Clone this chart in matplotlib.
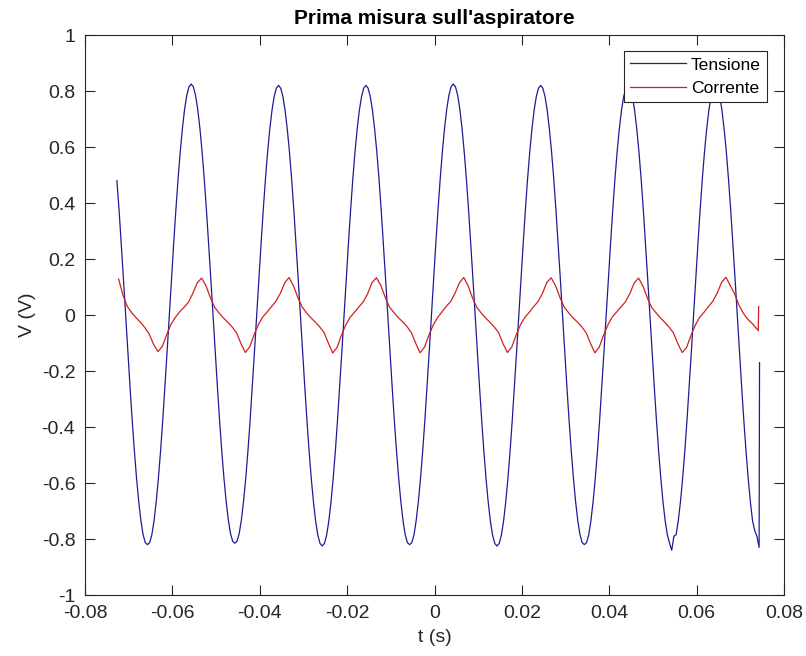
import numpy as np
import matplotlib
matplotlib.use("Agg")
import matplotlib.pyplot as plt

plt.rcParams['font.family'] = ['Liberation Sans', 'DejaVu Sans']
plt.rcParams['axes.unicode_minus'] = False

# ---------------- data ----------------
# Tensione: sampled every 0.5 ms starting at t = -0.0727 s
t_tens_start = -0.0727
t_tens_step = 0.0005
tensione = [
    0.48, 0.375, 0.255, 0.129, 0.0, -0.129, -0.255, -0.375, -0.485, -0.583,
    -0.667, -0.735, -0.785, -0.813, -0.82, -0.813, -0.785, -0.735, -0.667, -0.583,
    -0.485, -0.375, -0.255, -0.129, 0.0, 0.129, 0.255, 0.375, 0.485, 0.583,
    0.667, 0.735, 0.785, 0.815, 0.825, 0.815, 0.785, 0.735, 0.667, 0.583,

    0.485, 0.375, 0.255, 0.129, 0.0, -0.129, -0.255, -0.375, -0.485, -0.582,
    -0.664, -0.731, -0.78, -0.808, -0.815, -0.808, -0.78, -0.731, -0.664, -0.582,
    -0.485, -0.375, -0.255, -0.129, 0.0, 0.129, 0.255, 0.375, 0.485, 0.582,
    0.664, 0.731, 0.78, 0.81, 0.82, 0.81, 0.78, 0.731, 0.664, 0.582,

    0.485, 0.375, 0.255, 0.129, 0.0, -0.129, -0.255, -0.375, -0.487, -0.585,
    -0.669, -0.737, -0.787, -0.816, -0.825, -0.816, -0.787, -0.737, -0.669, -0.585,
    -0.487, -0.375, -0.255, -0.129, 0.0, 0.129, 0.255, 0.375, 0.485, 0.582,
    0.664, 0.731, 0.78, 0.81, 0.82, 0.81, 0.78, 0.731, 0.664, 0.582,

    0.485, 0.375, 0.255, 0.129, 0.0, -0.129, -0.255, -0.375, -0.485, -0.583,
    -0.667, -0.735, -0.785, -0.813, -0.82, -0.813, -0.785, -0.735, -0.667, -0.583,
    -0.485, -0.375, -0.255, -0.129, 0.0, 0.129, 0.255, 0.375, 0.485, 0.583,
    0.667, 0.735, 0.785, 0.815, 0.825, 0.815, 0.785, 0.735, 0.667, 0.583,

    0.485, 0.375, 0.255, 0.129, 0.0, -0.129, -0.255, -0.375, -0.487, -0.585,
    -0.669, -0.737, -0.787, -0.816, -0.825, -0.816, -0.787, -0.737, -0.669, -0.585,
    -0.487, -0.375, -0.255, -0.129, 0.0, 0.129, 0.255, 0.375, 0.485, 0.582,
    0.664, 0.731, 0.78, 0.81, 0.82, 0.81, 0.78, 0.731, 0.664, 0.582,

    0.485, 0.375, 0.255, 0.129, 0.0, -0.129, -0.255, -0.375, -0.485, -0.583,
    -0.667, -0.735, -0.785, -0.813, -0.82, -0.813, -0.785, -0.735, -0.667, -0.583,
    -0.485, -0.375, -0.255, -0.129, 0.0, 0.129, 0.255, 0.375, 0.485, 0.582,
    0.664, 0.731, 0.78, 0.81, 0.82, 0.81, 0.78, 0.731, 0.664, 0.582,

    0.485, 0.375, 0.255, 0.129, 0.0, -0.129, -0.255, -0.375, -0.485, -0.583,
    -0.667, -0.735, -0.785, -0.815, -0.84, -0.79, -0.785, -0.735, -0.667, -0.583,
    -0.485, -0.375, -0.255, -0.129, 0.0, 0.129, 0.255, 0.375, 0.485, 0.582,
    0.664, 0.731, 0.78, 0.81, 0.82, 0.81, 0.78, 0.731, 0.664, 0.582,

    0.485, 0.375, 0.255, 0.129, 0.0, -0.129, -0.255, -0.375, -0.485, -0.583,
    -0.667, -0.735, -0.77, -0.79, -0.83,
]
t_tens_tail = [0.0744]
tensione_tail = [-0.17]

# Corrente: sampled every 1 ms starting at t = -0.0723 s
t_corr_start = -0.0723
t_corr_step = 0.001
corrente = [
    0.128, 0.070, 0.030, 0.008, -0.010, -0.026, -0.045, -0.068, -0.105, -0.131,
    -0.112, -0.070, -0.033, -0.008, 0.012, 0.028, 0.046, 0.078, 0.115,
    0.132, 0.104, 0.062, 0.027, 0.007, -0.011, -0.026, -0.043, -0.064, -0.102,
    -0.134, -0.114, -0.071, -0.034, -0.007, 0.011, 0.030, 0.049, 0.077, 0.114,
    0.134, 0.105, 0.063, 0.029, 0.008, -0.010, -0.025, -0.042, -0.062, -0.100,
    -0.136, -0.116, -0.072, -0.035, -0.008, 0.010, 0.029, 0.047, 0.076, 0.116,
    0.133, 0.106, 0.064, 0.028, 0.009, -0.009, -0.024, -0.041, -0.063, -0.101,
    -0.135, -0.115, -0.073, -0.036, -0.009, 0.011, 0.031, 0.048, 0.078, 0.115,
    0.134, 0.104, 0.061, 0.027, 0.007, -0.011, -0.026, -0.043, -0.064, -0.103,
    -0.134, -0.114, -0.071, -0.034, -0.008, 0.010, 0.030, 0.048, 0.077, 0.116,
    0.133, 0.105, 0.063, 0.028, 0.008, -0.010, -0.025, -0.042, -0.063, -0.101,
    -0.135, -0.115, -0.072, -0.035, -0.007, 0.011, 0.029, 0.047, 0.076, 0.114,
    0.132, 0.104, 0.062, 0.027, 0.008, -0.010, -0.026, -0.043, -0.064, -0.102,
    -0.134, -0.116, -0.073, -0.036, -0.008, 0.010, 0.030, 0.049, 0.078, 0.116,
    0.135, 0.105, 0.075, 0.035, 0.006, -0.015, -0.030, -0.048,
]
t_corr_tail = [0.0741, 0.0742]
corrente_tail = [-0.056, 0.03]

series_labels = ["Tensione", "Corrente"]
xticks = [-0.08, -0.06, -0.04, -0.02, 0, 0.02, 0.04, 0.06, 0.08]
xtick_labels = ["-0.08", "-0.06", "-0.04", "-0.02", "0", "0.02", "0.04", "0.06", "0.08"]
yticks = [-1, -0.8, -0.6, -0.4, -0.2, 0, 0.2, 0.4, 0.6, 0.8, 1]
ytick_labels = ["-1", "-0.8", "-0.6", "-0.4", "-0.2", "0", "0.2", "0.4", "0.6", "0.8", "1"]
title = "Prima misura sull'aspiratore"
xlabel = "t (s)"
ylabel = "V (V)"

# ---------------- build time axes ----------------
t_tens = list(t_tens_start + t_tens_step * np.arange(len(tensione))) + t_tens_tail
v_tens = tensione + tensione_tail
t_corr = list(t_corr_start + t_corr_step * np.arange(len(corrente))) + t_corr_tail
v_corr = corrente + corrente_tail

# ---------------- figure ----------------
W, H = 806, 656
fig = plt.figure(figsize=(W / 100, H / 100), dpi=100)
fig.patch.set_facecolor("white")
ax = fig.add_axes([85 / W, 61 / H, 699 / W, 560 / H])

blue = "#1c1c96"
red = "#d02020"
ax.plot(t_tens, v_tens, color=blue, lw=0.9, label=series_labels[0])
ax.plot(t_corr, v_corr, color=red, lw=0.9, label=series_labels[1])

ax.set_xlim(-0.08, 0.08)
ax.set_ylim(-1, 1)
ax.set_xticks(xticks)
ax.set_xticklabels(xtick_labels)
ax.set_yticks(yticks)
ax.set_yticklabels(ytick_labels)

axcol = "#262626"
for s in ax.spines.values():
    s.set_color(axcol)
    s.set_linewidth(0.8)
ax.tick_params(direction="in", length=7, width=0.8, top=True, right=True,
               labelsize=14, colors=axcol)
ax.tick_params(axis="x", pad=7)
ax.tick_params(axis="y", pad=7)

ax.set_title(title, fontsize=15, fontweight="bold", color="black", pad=8)
ax.set_xlabel(xlabel, fontsize=14, color=axcol, labelpad=5)
ax.set_ylabel(ylabel, fontsize=14, color=axcol, labelpad=4)

leg = ax.legend(loc="upper right", bbox_to_anchor=(0.9757, 0.971), borderaxespad=0,
                fontsize=12.6, fancybox=False, framealpha=1, edgecolor=axcol,
                handlelength=3.2, handletextpad=0.3, labelspacing=0.45,
                borderpad=0.35)
leg.get_frame().set_linewidth(0.8)

fig.savefig("out.png", dpi=100, facecolor="white")
